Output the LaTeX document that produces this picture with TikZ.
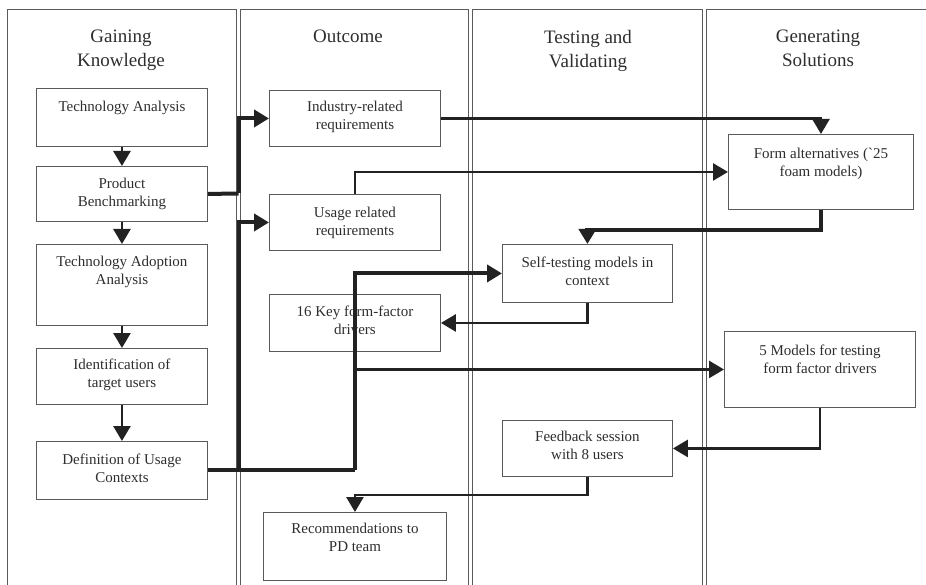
\documentclass[tikz,border=0pt]{standalone}
\usepackage{fontspec}
\setmainfont{Liberation Serif}
\usetikzlibrary{arrows.meta,calc}
\definecolor{ink}{HTML}{222222}
\definecolor{frame}{HTML}{5A5A5A}
\definecolor{txt}{HTML}{2E2E2E}
\begin{document}
\begin{tikzpicture}[x=1pt,y=-1pt,
  lane/.style={draw=frame,line width=0.9pt},
  box/.style={draw=frame,line width=0.9pt,rectangle,inner sep=0pt,anchor=north west},
  btext/.style={anchor=north,inner sep=0pt,align=center,text=txt,font=\fontsize{15}{18}\selectfont},
  htext/.style={anchor=north,inner sep=0pt,align=center,text=txt,font=\fontsize{19}{24}\selectfont},
  tip/.tip={Triangle[length=15pt,width=17pt]},
  flow/.style={draw=ink,line width=2.6pt,-tip},
  plain/.style={draw=ink,line width=2.6pt},
  thick flow/.style={draw=ink,line width=4pt,-tip},
  thick plain/.style={draw=ink,line width=4pt}
]
\useasboundingbox (0,0) rectangle (926,585);
\fill[white] (0,0) rectangle (926,585);
% lanes
\draw[lane] (7,585) -- (7,9) -- (236,9) -- (236,585);
\draw[lane] (240,585) -- (240,9) -- (468,9) -- (468,585);
\draw[lane] (472,585) -- (472,9) -- (702,9) -- (702,585);
\draw[lane] (706,585) -- (706,9) -- (926,9);
% headers
\node[htext] (h1) at (121,30) {Gaining\\Knowledge};
\node[htext] (h2) at (348,30) {Outcome};
\node[htext] (h3) at (588,30) {Testing and\\Validating};
\node[htext] (h4) at (818,30) {Generating\\Solutions};
% lane 1 boxes
\node[box,minimum width=171pt,minimum height=58pt] (ta) at (36,88) {};
\node[btext] (ta-t) at ($(ta.north)+(0,13)$) {Technology Analysis};
\node[box,minimum width=171pt,minimum height=55pt] (pb) at (36,166) {};
\node[btext] (pb-t) at ($(pb.north)+(0,12)$) {Product\\Benchmarking};
\node[box,minimum width=171pt,minimum height=81pt] (tad) at (36,244) {};
\node[btext] (tad-t) at ($(tad.north)+(0,12)$) {Technology Adoption\\Analysis};
\node[box,minimum width=171pt,minimum height=56pt] (itu) at (36,348) {};
\node[btext] (itu-t) at ($(itu.north)+(0,11)$) {Identification of\\target users};
\node[box,minimum width=171pt,minimum height=58pt] (duc) at (36,441) {};
\node[btext] (duc-t) at ($(duc.north)+(0,13)$) {Definition of Usage\\Contexts};
% lane 2 boxes
\node[box,minimum width=171pt,minimum height=56pt] (irq) at (269,90) {};
\node[btext] (irq-t) at ($(irq.north)+(0,11)$) {Industry-related\\requirements};
\node[box,minimum width=171pt,minimum height=56pt] (urq) at (269,194) {};
\node[btext] (urq-t) at ($(urq.north)+(0,13)$) {Usage related\\requirements};
\node[box,minimum width=171pt,minimum height=57pt] (kff) at (269,294) {};
\node[btext] (kff-t) at ($(kff.north)+(0,12)$) {16 Key form-factor\\drivers};
\node[box,minimum width=183pt,minimum height=68pt] (rec) at (263,512) {};
\node[btext] (rec-t) at ($(rec.north)+(0,11)$) {Recommendations to\\PD team};
% lane 3 boxes
\node[box,minimum width=170pt,minimum height=58pt] (stm) at (502,244) {};
\node[btext] (stm-t) at ($(stm.north)+(0,13)$) {Self-testing models in\\context};
\node[box,minimum width=170pt,minimum height=56pt] (fbs) at (502,420) {};
\node[btext] (fbs-t) at ($(fbs.north)+(0,11)$) {Feedback session\\with 8 users};
% lane 4 boxes
\node[box,minimum width=185pt,minimum height=75pt] (fal) at (728,134) {};
\node[btext] (fal-t) at ($(fal.north)+(0,14)$) {Form alternatives (\textasciigrave 25\\foam models)};
\node[box,minimum width=191pt,minimum height=76pt] (fmd) at (724,331) {};
\node[btext] (fmd-t) at ($(fmd.north)+(0,14)$) {5 Models for testing\\form factor drivers};
% lane 1 arrows
\draw[flow] (ta.south) -- (pb.north);
\draw[flow] (pb.south) -- (tad.north);
\draw[flow] (tad.south) -- (itu.north);
\draw[flow] (itu.south) -- (duc.north);
% bus to outcome
\coordinate (b1) at (238.5,193.5);
\coordinate (b2) at (238.5,470);
\coordinate (j1) at (kff.center |- duc.east);
\coordinate (j2) at (kff.center |- fmd.west);
\draw[thick plain] (pb.east) -- (b1);
\draw[thick flow] (b1) |- (irq.west);
\draw[thick plain] (duc.east) -- (j1);
\draw[thick flow] (b2) |- (urq.west);
\draw[thick flow] (j1) |- (stm.west);
\draw[flow] (j2) -- (fmd.west);
% outcome to solutions
\draw[flow] (irq.east) -| (fal.north);
\draw[flow] (urq.north) |- (fal.west);
\draw[thick flow] (fal.south) -- ++(0,20) -| (stm.north);
\draw[flow] (stm.south) |- (kff.east);
\draw[flow] (fmd.south) |- (fbs.east);
\draw[flow] (fbs.south) -- ++(0,18) -| (rec.north);
\end{tikzpicture}
\end{document}
